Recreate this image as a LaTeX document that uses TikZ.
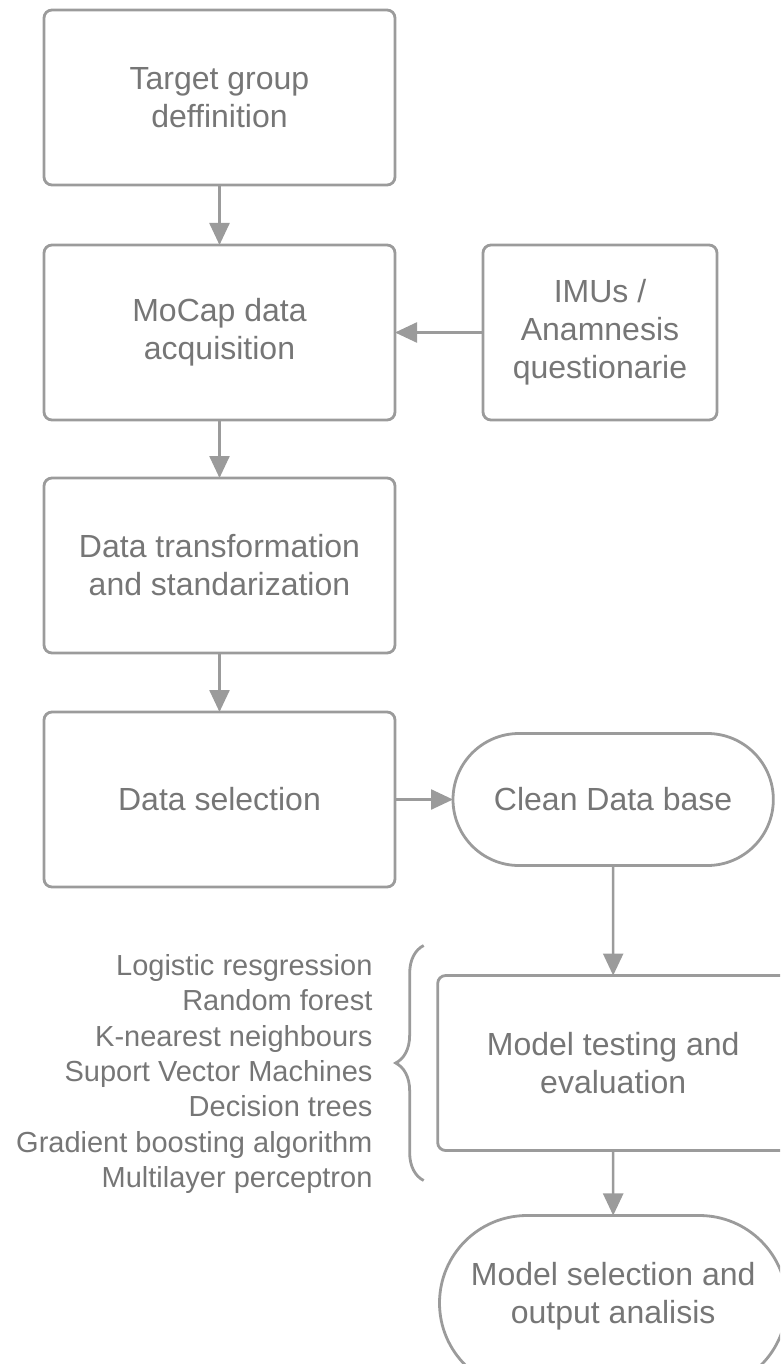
\documentclass[tikz,border=0pt]{standalone}
\usepackage{fontspec}
\setmainfont{Liberation Sans}
\definecolor{linegray}{RGB}{155,155,155}
\definecolor{textgray}{RGB}{118,118,118}
\usetikzlibrary{positioning,shapes.misc,arrows.meta,decorations.pathreplacing}
\tikzset{flow/.style = {draw=linegray, line width=2.5pt, -{Triangle[length=22pt,width=20pt]}}}

\begin{document}
\begin{tikzpicture}[
  every node/.style={text=textgray, align=center, font=\fontsize{32}{38}\selectfont},
  stepbox/.style={draw=linegray, line width=2.8pt, outer sep=0pt, rectangle, rounded corners=8pt,
    minimum width=351pt, minimum height=175pt},
  termbox/.style={draw=linegray, line width=2.8pt, outer sep=0pt, rounded rectangle,
    minimum width=327pt, minimum height=132pt},
  node distance=59pt
  ]
  \useasboundingbox (0,0) rectangle (780pt,-1364pt);
  \clip (0,0) rectangle (780pt,-1364pt);

  % the main column
  \node[stepbox] (target) at (219.5pt,-97.5pt) {Target group\\deffinition};
  \node[stepbox,below=60pt of target] (mocap) {MoCap data\\acquisition};
  \node[stepbox,below=58pt of mocap] (transform) {Data transformation\\and standarization};
  \node[stepbox,below=of transform] (selection) {Data selection};

  % the side inputs and outputs
  \node[stepbox,minimum width=234pt,right=88pt of mocap] (imus) {IMUs /\\Anamnesis\\questionarie};
  \node[termbox,right=58pt of selection] (cleandb) {Clean Data base};
  \node[stepbox,below=110pt of cleandb] (testing) {Model testing and\\evaluation};
  \node[termbox,minimum width=354pt,minimum height=175pt,below=65pt of testing] (modelsel)
    {Model selection and\\output analisis\\[-18pt]};

  % the tested models
  \node[align=right,inner sep=0pt,font=\fontsize{29}{35.3}\selectfont,
    left=65pt of testing,yshift=-11pt] (models)
    {Logistic resgression\\Random forest\\K-nearest neighbours\\Suport Vector Machines\\Decision trees\\Gradient boosting algorithm\\Multilayer perceptron};
  \draw[linegray,line width=2.8pt,decorate,decoration={brace,amplitude=28pt}]
    ([xshift=-14pt,yshift=-30pt]testing.south west) -- ([xshift=-14pt,yshift=30pt]testing.north west);

  % the edges
  \draw[flow] (target) -- (mocap);
  \draw[flow] (imus) -- (mocap);
  \draw[flow] (mocap) -- (transform);
  \draw[flow] (transform) -- (selection);
  \draw[flow] (selection) -- (cleandb);
  \draw[flow] (cleandb) -- (testing);
  \draw[flow] (testing) -- (modelsel);
\end{tikzpicture}
\end{document}
